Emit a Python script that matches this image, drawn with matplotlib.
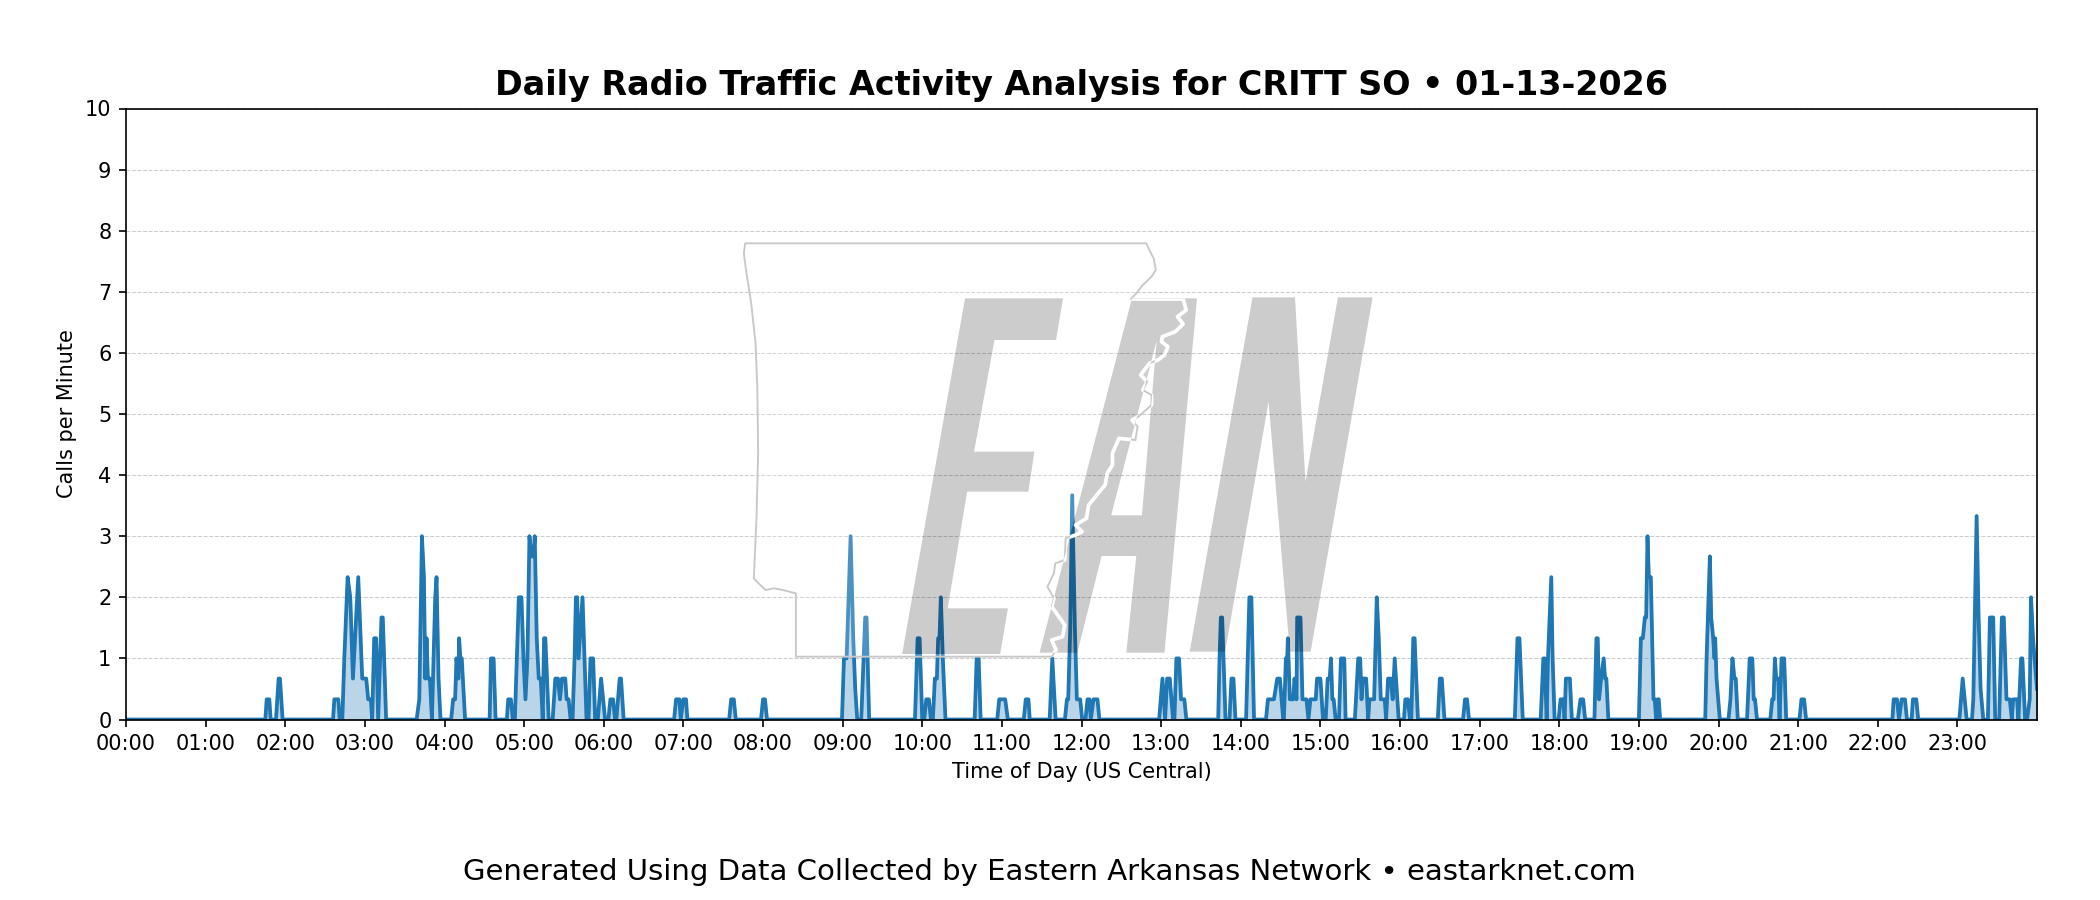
import numpy as np
import matplotlib
matplotlib.use("Agg")
from matplotlib import pyplot as plt
from matplotlib.patches import PathPatch
from matplotlib.path import Path
from matplotlib.transforms import Affine2D

# breakpoints of the 3-minute rolling rate
call_minutes = [
    0, 105, 106, 108, 109, 113, 115, 116, 118,
    156, 157, 160, 161,
    163, 164.5, 167, 169, 171, 175, 178, 181, 182.5, 184.5, 185.5, 187, 188.5, 190, 192.5, 193.5, 194.5, 196,
    219, 221, 223, 224.5, 225.5, 226.5, 227.5, 229, 230.5, 233, 234, 235.5, 237,
    245, 246.5, 248, 249, 250.5, 251, 252, 253, 255.5,
    274, 275, 277, 278.5,
    287, 288, 290, 291.5, 293, 294.5, 296, 298, 299.5, 301, 302.5, 304, 305.5, 307, 308, 309.5, 311, 312.5, 314, 315, 316, 318.5,
    321.5, 323.5, 325.5, 327, 328.5, 331, 332, 333.5, 335,
    336.5, 338, 339, 340, 341, 344, 345, 347,
    348.5, 350, 352, 353.5,
    355.5, 358, 361,
    363.5, 365, 367, 368.5,
    369.5, 372, 373, 375,
    413, 414.5, 417, 418, 420, 422, 423,
    454.5, 456, 458, 459.5,
    478.5, 480, 481.5, 483,
    539.5, 541, 543, 546, 548, 549.5, 551,
    554, 557, 558, 560,
    594.5, 596.5, 598, 600,
    601.5, 603, 605, 606.5,
    608, 609.5, 611, 612, 613, 614, 615.5, 617.5,
    639.5, 641, 642.5, 644,
    656.5, 658, 662.5, 664.5,
    676.5, 678, 680, 681,
    696, 698, 700.5,
    707.5, 709, 710, 711.5, 713, 715, 716.5, 719, 720.5,
    723, 724.5, 726, 727, 729, 732, 733.5,
    778.5, 781, 783, 784.5, 786.5, 789, 790, 791.5, 793.5, 795, 797.5, 799,
    823, 824, 825, 826, 828.5,
    831.5, 833, 834.5, 836,
    844, 846.5, 848, 850,
    859, 860.5, 865, 867.5, 869.5, 872,
    872.5, 874, 875, 875.5, 877, 879.5, 880.5, 882, 882.5, 885, 886.5, 889.5, 891,
    892.5, 896.5, 897.5, 900, 902,
    904, 905.5, 907, 908, 909, 910, 911.5,
    914, 915.5, 918, 919,
    926, 928.5, 930, 931, 932, 934.5, 936, 937, 939, 940.5, 942.5, 944, 945.5, 948.5, 949.5, 951, 953, 954.5, 956, 957, 959,
    963, 964, 966, 967.5, 968.5, 970, 971, 973.5,
    988.5, 990, 991.5, 993.5,
    1007.5, 1009, 1010.5, 1012,
    1046.5, 1048.5, 1050, 1052.5,
    1066, 1068, 1069, 1070.5, 1071.5, 1074, 1075, 1076.5,
    1079.5, 1081, 1083, 1084, 1085, 1088, 1089.5,
    1094, 1096, 1098, 1099.5,
    1106.5, 1108, 1109, 1110, 1111.5, 1113.5, 1114.5, 1115.5, 1117, 1118,
    1140, 1141.5, 1143, 1144.5, 1145.5, 1146.5, 1147.5, 1149, 1151, 1152, 1153, 1154, 1155, 1156,
    1190, 1191, 1193.5, 1194.5, 1196, 1197, 1197.5, 1198.5, 1201,
    1207.5, 1209, 1210.5, 1212, 1213, 1214.5,
    1221.5, 1223.5, 1225.5, 1226.5, 1227.5, 1229,
    1239, 1240.5, 1241.5, 1242.5, 1243.5, 1245, 1246, 1247.5, 1249.5, 1251,
    1261, 1262.5, 1264.5, 1266,
    1331, 1332, 1334.5, 1336, 1338, 1340.5, 1342,
    1345.5, 1346.5, 1349, 1350.5,
    1381.5, 1384, 1387,
    1391, 1392, 1394.5, 1396, 1397.5, 1399.5,
    1403, 1404.5, 1407, 1408.5,
    1411.5, 1413.5, 1415, 1417, 1419.5, 1421,
    1422, 1425, 1426, 1428, 1429, 1431,
    1432.5, 1434.5, 1435.5, 1437, 1438.5, 1440,
]
call_rates = [
    0, 0, .33, .33, 0, 0, .67, .67, 0,
    0, .33, .33, 0,
    0, 1, 2.33, 2, .67, 2.33, .67, .67, .33, .33, 0, 1.33, 1.33, 0, 1.67, 1.67, 1, 0,
    0, .33, 3, 2.33, .67, 1.33, .67, .67, 0, 2, 2.33, .67, 0,
    0, .33, .33, 1, .67, 1.33, 1, 1, 0,
    0, 1, 1, 0,
    0, .33, .33, 0, 0, 1, 2, 2, 1, .33, 1, 3, 2.67, 2.67, 3, 1.33, .67, .67, 0, 1.33, 1.33, 0,
    0, .67, .67, .33, .67, .67, .33, .33, 0,
    0, 1, 2, 2, 1, 2, 1.33, 0,
    0, 1, 1, 0,
    0, .67, 0,
    0, .33, .33, 0,
    0, .67, .67, 0,
    0, .33, .33, 0, .33, .33, 0,
    0, .33, .33, 0,
    0, .33, .33, 0,
    0, 1, 1, 3, 1.33, .5, 0,
    0, 1.67, 1.67, 0,
    0, 1.33, 1.33, 0,
    0, .33, .33, 0,
    0, .67, .67, 1.33, 1.33, 2, 1, 0,
    0, 1, 1, 0,
    0, .33, .33, 0,
    0, .33, .33, 0,
    0, 1, 0,
    0, .33, .33, 1.5, 3.67, 1.5, .33, .33, 0,
    0, .33, .33, 0, .33, .33, 0,
    0, .67, 0, .67, .67, 0, 0, 1, 1, .33, .33, 0,
    0, 1, 1.67, 1.67, 0,
    0, .67, .67, 0,
    0, 2, 2, 0,
    0, .33, .33, .67, .67, 0,
    0, 1, 1, 1.33, .33, .33, .67, .33, 1.67, 1.67, .33, .33, 0,
    .33, .33, .67, .67, 0,
    0, .67, .67, 1, .33, .33, 0,
    0, 1, 1, 0,
    0, 1, 1, .33, .67, .67, 0, .33, .33, .33, 2, 1.33, .33, .33, 0, .67, .67, .33, 1, .67, 0,
    0, .33, .33, 0, 0, 1.33, 1.33, 0,
    0, .67, .67, 0,
    0, .33, .33, 0,
    0, 1.33, 1.33, 0,
    0, 1, 1, 0, 1, 2.33, 1, 0,
    0, .33, .33, 0, .67, .67, 0,
    0, .33, .33, 0,
    0, 1.33, 1.33, .33, .67, 1, .67, .67, 0, 0,
    0, 1.33, 1.33, 1.67, 1.67, 3, 2.33, 2.33, .33, .33, 0, .33, .33, 0,
    0, 1, 2.67, 1.67, 1.33, 1, 1.33, .67, 0,
    0, .33, 1, .67, .67, 0,
    0, 1, 1, .33, .33, 0,
    0, .33, .33, 1, .67, .67, 0, 1, 1, 0,
    0, .33, .33, 0,
    0, .33, .33, 0, .33, .33, 0,
    0, .33, .33, 0,
    0, .67, 0,
    0, .33, 3.33, 1.67, .5, 0,
    0, 1.67, 1.67, 0,
    0, 1.67, 1.67, .33, .33, 0,
    .33, .33, 0, 1, 1, 0,
    0, .33, 2, 1.33, .9, .5,
]

hour_ticks = list(range(0, 24 * 60, 60))
hour_labels = [f"{h:02d}:00" for h in range(24)]
y_ticks = list(range(0, 11))

title_text = "Daily Radio Traffic Activity Analysis for CRITT SO \u2022 01-13-2026"
footer_text = "Generated Using Data Collected by Eastern Arkansas Network \u2022 eastarknet.com"

# watermark outlines, in pixels of the crop they were traced from
letter_e = [(565, 235), (791, 235), (775, 360), (633, 360), (586, 695), (725, 695), (711, 815),
            (570, 815), (525, 1165), (664, 1165), (646, 1302), (420, 1302)]
letter_a = [(950, 235), (1100, 235), (1025, 1298), (937, 1298), (960, 1008), (880, 1008),
            (824, 1298), (737, 1298)]
letter_a_hole = [(1007, 362), (902, 886), (973, 886)]
letter_n = [(1228, 232), (1326, 232), (1350, 785), (1425, 232), (1505, 232), (1362, 1295),
            (1314, 1295), (1265, 545), (1165, 1295), (1083, 1295)]
state_north = [(78, 1075), (84, 900), (88, 700), (86, 500), (82, 370), (72, 250), (60, 150),
               (55, 100), (58, 70), (983, 70), (990, 90),
               (1000, 115), (1005, 150), (995, 170), (975, 195), (960, 220), (947, 237)]
state_river = [(947, 237), (1068, 237), (1075, 270), (1055, 290), (1068, 312), (1050, 335),
               (1020, 350), (1018, 365), (1033, 380), (1025, 405), (1010, 420), (990, 430),
               (970, 465), (985, 485), (975, 510), (995, 525), (995, 555), (965, 590),
               (950, 600), (963, 620), (958, 660), (920, 655), (905, 700), (905, 735),
               (893, 760), (888, 795), (850, 855), (845, 895), (820, 915), (835, 935),
               (820, 945), (797, 955), (795, 1020), (773, 1030), (770, 1060), (755, 1100),
               (770, 1135), (765, 1160), (795, 1215), (790, 1250), (765, 1260), (775, 1290),
               (765, 1310)]
state_south = [(765, 1310), (175, 1310), (175, 1120), (145, 1110), (125, 1105), (105, 1110),
               (85, 1085), (78, 1075)]


def closed_path(points_list):
    verts, codes = [], []
    for pts in points_list:
        verts += pts + [pts[0]]
        codes += [Path.MOVETO] + [Path.LINETO] * (len(pts) - 1) + [Path.CLOSEPOLY]
    return Path(verts, codes)


fig = plt.figure(figsize=(14, 6), dpi=150)
ax = fig.add_axes([126 / 2100, 1 - 719.5 / 900, (2037 - 126) / 2100, (719.5 - 108.5) / 900])

ax.plot(call_minutes, call_rates, color="#1f77b4", linewidth=1.8)
ax.fill_between(call_minutes, call_rates, color="#1f77b4", alpha=0.3)

ax.set_xlim(0, 1440)
ax.set_ylim(0, 10)
ax.set_xticks(hour_ticks)
ax.set_xticklabels(hour_labels)
ax.set_yticks(y_ticks)
ax.tick_params(labelsize=10)
ax.grid(axis="y", linestyle="--", linewidth=0.5, color="gray", alpha=0.4)
ax.set_axisbelow(True)
ax.set_xlabel("Time of Day (US Central)", fontsize=10)
ax.set_ylabel("Calls per Minute", fontsize=10)
ax.set_title(title_text, fontsize=16, fontweight="bold", pad=6.5)
fig.text(0.4995, 1 - 871.5 / 900, footer_text, ha="center", va="center", fontsize=14)

# crop pixels -> figure fraction (that crop came back 2.306x wide, 3x high)
logo_tf = (Affine2D().scale(1 / 2.306, 1 / 3).translate(720, 220)
           .scale(1 / 2100, -1 / 900).translate(0, 1)) + fig.transFigure

letters = closed_path([letter_e, letter_a, letter_a_hole, letter_n])
outside_letters = closed_path([[(-5000, -5000), (-5000, 5000), (5000, 5000), (5000, -5000)],
                               letter_e, letter_a, letter_a_hole[::-1], letter_n])
state = closed_path([state_north + state_river[1:] + state_south[1:]])

state_fill = PathPatch(state, facecolor="white", edgecolor="none", alpha=0.2,
                       transform=logo_tf, zorder=5)
ax.add_patch(state_fill)
state_fill.set_clip_path(outside_letters, logo_tf)
ax.add_patch(PathPatch(letters, facecolor="black", edgecolor="none", alpha=0.2,
                       transform=logo_tf, zorder=6))
ax.add_patch(PathPatch(state, facecolor="none", edgecolor="#c8c8c8", linewidth=0.9,
                       transform=logo_tf, zorder=7))
river_x, river_y = zip(*state_river)
river = ax.plot(river_x, river_y, color="white", linewidth=1.8, transform=logo_tf, zorder=8)[0]
river.set_clip_path(letters, logo_tf)

fig.savefig("out.png", dpi=150)
